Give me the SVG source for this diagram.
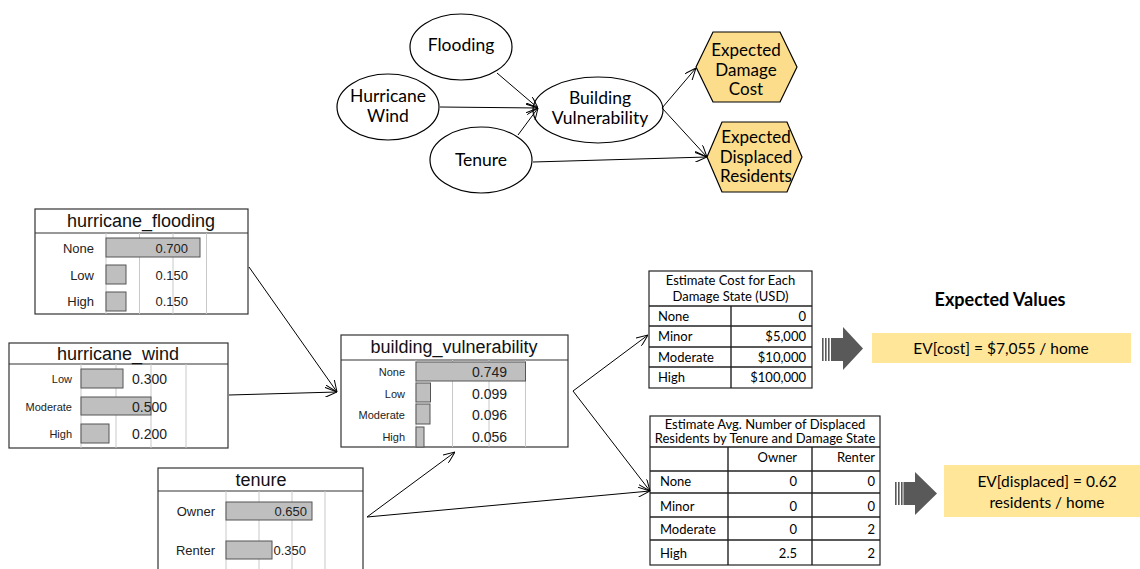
<svg xmlns="http://www.w3.org/2000/svg" width="1140" height="569" viewBox="0 0 1140 569">
  <defs>
    <marker id="open" viewBox="0 0 12 10" refX="12" refY="5" markerWidth="12" markerHeight="10" markerUnits="userSpaceOnUse" orient="auto">
      <path d="M0,0 L12,5 L0,10" fill="none" stroke="#000" stroke-width="1"/>
    </marker>
    <style>
      .ell { fill: #fff; stroke: #000; stroke-width: 1.2; }
      .hex { fill: #FBDD8C; stroke: #000; stroke-width: 1.2; }
      .lbl { font-family: Lato, "Liberation Sans", sans-serif; font-size: 17.5px; fill: #000; text-anchor: middle; }
      .hl { font-family: Lato, "Liberation Sans", sans-serif; font-size: 17px; fill: #000; text-anchor: middle; }
      .edge { stroke: #000; stroke-width: 1; fill: none; marker-end: url(#open); }
      .box { fill: #fff; stroke: #333; stroke-width: 1.2; }
      .sep { stroke: #333; stroke-width: 1.2; }
      .grid { stroke: #c8c8c8; stroke-width: 1; }
      .bar { fill: #bfbfbf; stroke: #555; stroke-width: 1; }
      .ttl { font-family: "Liberation Sans", Arial, sans-serif; font-size: 18px; fill: #111; text-anchor: middle; }
      .st { font-family: "Liberation Sans", Arial, sans-serif; fill: #222; text-anchor: end; }
      .s11 { font-size: 11px; }
      .s13 { font-size: 13px; }
      .s14 { font-size: 14px; }
      .tb { fill: #fff; stroke: #222; stroke-width: 1.2; }
      .tl { stroke: #222; stroke-width: 1.4; }
      .tt { font-family: Lato, "Liberation Sans", sans-serif; font-size: 13px; fill: #000; }
      .mid { text-anchor: middle; }
      .end { text-anchor: end; }
      .ev { fill: #FFE699; }
      .evt { font-family: Lato, "Liberation Sans", sans-serif; font-size: 15.5px; fill: #000; text-anchor: middle; }
      .big { fill: #595959; }
    </style>
  </defs>

  <!-- influence diagram -->
  <g id="node-flooding">
    <ellipse class="ell" cx="461" cy="47" rx="51" ry="33"/>
    <text class="lbl" x="461" y="51">Flooding</text>
  </g>
  <g id="node-hurricane-wind">
    <ellipse class="ell" cx="388" cy="107" rx="51" ry="33"/>
    <text class="lbl" x="388" y="102">Hurricane</text>
    <text class="lbl" x="388" y="122">Wind</text>
  </g>
  <g id="node-tenure">
    <ellipse class="ell" cx="481" cy="160" rx="51" ry="33"/>
    <text class="lbl" x="481" y="166">Tenure</text>
  </g>
  <g id="node-building-vulnerability">
    <ellipse class="ell" cx="598" cy="110" rx="65" ry="33"/>
    <text class="lbl" x="600" y="104">Building</text>
    <text class="lbl" x="600" y="124">Vulnerability</text>
  </g>
  <g id="node-expected-damage-cost">
    <polygon class="hex" points="696,67 713,32 780,32 797,67 780,102 713,102"/>
    <text class="hl" x="746" y="56">Expected</text>
    <text class="hl" x="746" y="75.5">Damage</text>
    <text class="hl" x="746" y="95">Cost</text>
  </g>
  <g id="node-expected-displaced">
    <polygon class="hex" points="707,157 722,122 787,122 802,157 787,192 722,192"/>
    <text class="hl" x="756" y="143">Expected</text>
    <text class="hl" x="756" y="162.5">Displaced</text>
    <text class="hl" x="756" y="182">Residents</text>
  </g>

  <!-- Netica belief bars -->
  <g id="node-hurricane-flooding">
    <rect class="box" x="35" y="209" width="213" height="105"/>
    <line class="sep" x1="35" y1="233" x2="248" y2="233"/>
    <text class="ttl" x="141" y="227">hurricane_flooding</text>
    <line class="grid" x1="106" y1="233" x2="106" y2="314"/>
    <line class="grid" x1="139.5" y1="233" x2="139.5" y2="314"/>
    <line class="grid" x1="173" y1="233" x2="173" y2="314"/>
    <line class="grid" x1="206.5" y1="233" x2="206.5" y2="314"/>
    <rect class="bar" x="106" y="238" width="94" height="19"/>
    <rect class="bar" x="106" y="265" width="20" height="19"/>
    <rect class="bar" x="106" y="292" width="20" height="19"/>
    <text class="st s13" x="94" y="252.5">None</text>
    <text class="st s13" x="94" y="279.5">Low</text>
    <text class="st s13" x="94" y="306">High</text>
    <text class="st s13" x="188" y="252.5">0.700</text>
    <text class="st s13" x="188" y="279.5">0.150</text>
    <text class="st s13" x="188" y="306">0.150</text>
  </g>

  <g id="node-hurricane-wind-bars">
    <rect class="box" x="9" y="343" width="219" height="105"/>
    <line class="sep" x1="9" y1="364" x2="228" y2="364"/>
    <text class="ttl" x="118" y="360">hurricane_wind</text>
    <line class="grid" x1="81" y1="364" x2="81" y2="448"/>
    <line class="grid" x1="116" y1="364" x2="116" y2="448"/>
    <line class="grid" x1="151" y1="364" x2="151" y2="448"/>
    <line class="grid" x1="186" y1="364" x2="186" y2="448"/>
    <rect class="bar" x="81" y="369" width="42" height="19"/>
    <rect class="bar" x="81" y="397" width="70" height="18"/>
    <rect class="bar" x="81" y="424" width="28" height="19"/>
    <text class="st s11" x="72" y="383">Low</text>
    <text class="st s11" x="72" y="410.5">Moderate</text>
    <text class="st s11" x="72" y="437.5">High</text>
    <text class="st s14" x="167" y="384">0.300</text>
    <text class="st s14" x="167" y="411.5">0.500</text>
    <text class="st s14" x="167" y="438.5">0.200</text>
  </g>

  <g id="node-tenure-bars">
    <rect class="box" x="158" y="468" width="205" height="120"/>
    <line class="sep" x1="158" y1="491" x2="363" y2="491"/>
    <text class="ttl" x="261" y="486">tenure</text>
    <line class="grid" x1="226" y1="491" x2="226" y2="569"/>
    <line class="grid" x1="259" y1="491" x2="259" y2="569"/>
    <line class="grid" x1="292" y1="491" x2="292" y2="569"/>
    <line class="grid" x1="325" y1="491" x2="325" y2="569"/>
    <rect class="bar" x="226" y="502" width="86" height="18"/>
    <rect class="bar" x="226" y="541" width="46" height="18"/>
    <text class="st s13" x="215" y="515.5">Owner</text>
    <text class="st s13" x="215" y="554.5">Renter</text>
    <text class="st s13" x="307" y="516">0.650</text>
    <text class="st s13" x="306" y="555">0.350</text>
  </g>

  <g id="node-building-vulnerability-bars">
    <rect class="box" x="341" y="335" width="227" height="112"/>
    <line class="sep" x1="341" y1="360" x2="568" y2="360"/>
    <text class="ttl" x="454" y="353">building_vulnerability</text>
    <line class="grid" x1="416" y1="360" x2="416" y2="447"/>
    <line class="grid" x1="452.5" y1="360" x2="452.5" y2="447"/>
    <line class="grid" x1="489" y1="360" x2="489" y2="447"/>
    <line class="grid" x1="525.5" y1="360" x2="525.5" y2="447"/>
    <rect class="bar" x="416" y="362" width="109.5" height="19"/>
    <rect class="bar" x="416" y="383" width="14.5" height="19"/>
    <rect class="bar" x="416" y="404" width="14" height="20"/>
    <rect class="bar" x="416" y="427" width="8" height="20"/>
    <text class="st s11" x="405" y="376">None</text>
    <text class="st s11" x="405" y="398">Low</text>
    <text class="st s11" x="405" y="419">Moderate</text>
    <text class="st s11" x="405" y="441">High</text>
    <text class="st s14" x="507" y="377">0.749</text>
    <text class="st s14" x="507" y="399">0.099</text>
    <text class="st s14" x="507" y="420">0.096</text>
    <text class="st s14" x="507" y="442">0.056</text>
  </g>

  <!-- lookup tables -->
  <g id="table-cost">
    <rect class="tb" x="649" y="271" width="163" height="117"/>
    <text class="tt mid" x="730.5" y="285">Estimate Cost for Each</text>
    <text class="tt mid" x="730.5" y="301">Damage State (USD)</text>
    <line class="tl" x1="649" y1="306" x2="812" y2="306"/>
    <line class="tl" x1="649" y1="326" x2="812" y2="326"/>
    <line class="tl" x1="649" y1="347" x2="812" y2="347"/>
    <line class="tl" x1="649" y1="367" x2="812" y2="367"/>
    <line class="tl" x1="731" y1="306" x2="731" y2="388"/>
    <text class="tt" x="658" y="320.5">None</text>
    <text class="tt" x="658" y="341">Minor</text>
    <text class="tt" x="658" y="361.5">Moderate</text>
    <text class="tt" x="658" y="382">High</text>
    <text class="tt end" x="806" y="320.5">0</text>
    <text class="tt end" x="806" y="341">$5,000</text>
    <text class="tt end" x="806" y="361.5">$10,000</text>
    <text class="tt end" x="806" y="382">$100,000</text>
  </g>

  <g id="table-displaced">
    <rect class="tb" x="650" y="416" width="230" height="149"/>
    <text class="tt mid" x="765" y="429">Estimate Avg. Number of Displaced</text>
    <text class="tt mid" x="765" y="443">Residents by Tenure and Damage State</text>
    <line class="tl" x1="650" y1="447" x2="880" y2="447"/>
    <line class="tl" x1="650" y1="471" x2="880" y2="471"/>
    <line class="tl" x1="650" y1="493" x2="880" y2="493"/>
    <line class="tl" x1="650" y1="517" x2="880" y2="517"/>
    <line class="tl" x1="650" y1="540" x2="880" y2="540"/>
    <line class="tl" x1="728" y1="447" x2="728" y2="565"/>
    <line class="tl" x1="812" y1="447" x2="812" y2="565"/>
    <text class="tt end" x="797" y="462">Owner</text>
    <text class="tt end" x="875" y="462">Renter</text>
    <text class="tt" x="660" y="486">None</text>
    <text class="tt" x="660" y="510.5">Minor</text>
    <text class="tt" x="660" y="533.5">Moderate</text>
    <text class="tt" x="660" y="557.5">High</text>
    <text class="tt end" x="797" y="486">0</text>
    <text class="tt end" x="797" y="510.5">0</text>
    <text class="tt end" x="797" y="533.5">0</text>
    <text class="tt end" x="797" y="557.5">2.5</text>
    <text class="tt end" x="875" y="486">0</text>
    <text class="tt end" x="875" y="510.5">0</text>
    <text class="tt end" x="875" y="533.5">2</text>
    <text class="tt end" x="875" y="557.5">2</text>
  </g>

  <!-- expected values -->
  <g id="ev-heading">
    <text x="1000" y="306" font-family="Lato, 'Liberation Sans', sans-serif" font-size="18" font-weight="bold" text-anchor="middle" fill="#000">Expected Values</text>
  </g>
  <g id="ev-cost-arrow">
    <rect class="big" x="822" y="338" width="1.6" height="23"/>
    <rect class="big" x="825" y="338" width="1.6" height="23"/>
    <rect class="big" x="828" y="338" width="1.6" height="23"/>
    <polygon class="big" points="831,338 843,338 843,327 863,348.5 843,370 843,361 831,361"/>
  </g>
  <g id="ev-cost">
    <rect class="ev" x="872" y="333" width="259" height="30"/>
    <text class="evt" x="1001" y="354">EV[cost] = $7,055 / home</text>
  </g>
  <g id="ev-displaced-arrow">
    <rect class="big" x="895" y="482" width="1.6" height="23"/>
    <rect class="big" x="898" y="482" width="1.6" height="23"/>
    <rect class="big" x="901" y="482" width="1.6" height="23"/>
    <polygon class="big" points="903.5,482 915,482 915,472 937,493.5 915,515 915,505 903.5,505"/>
  </g>
  <g id="ev-displaced">
    <rect class="ev" x="944" y="465" width="196" height="52"/>
    <text class="evt" x="1047" y="487">EV[displaced] = 0.62</text>
    <text class="evt" x="1047" y="508">residents / home</text>
  </g>

  <!-- connectors -->
  <g id="connectors">
    <line class="edge" x1="497" y1="73" x2="538" y2="108"/>
    <line class="edge" x1="440" y1="107" x2="538" y2="108"/>
    <line class="edge" x1="518" y1="135" x2="538" y2="108"/>
    <line class="edge" x1="662" y1="108" x2="696" y2="68"/>
    <line class="edge" x1="662" y1="108" x2="707" y2="157"/>
    <line class="edge" x1="533" y1="162" x2="707" y2="157"/>

    <line class="edge" x1="249" y1="267" x2="337" y2="392"/>
    <line class="edge" x1="229" y1="395" x2="337" y2="392"/>
    <line class="edge" x1="367" y1="517" x2="455" y2="452"/>
    <line class="edge" x1="367" y1="517" x2="650" y2="491"/>
    <line class="edge" x1="573" y1="391" x2="648" y2="335"/>
    <line class="edge" x1="573" y1="391" x2="650" y2="491"/>
  </g>
</svg>
